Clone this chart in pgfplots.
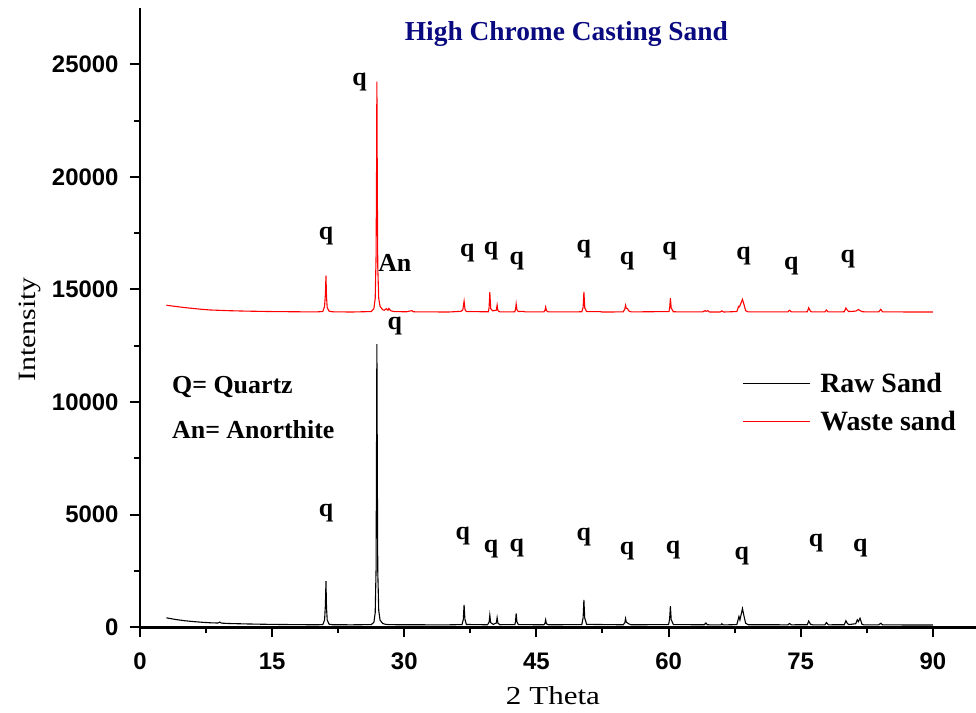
\documentclass[border=0pt]{standalone}
\usepackage{fontspec}
\setmainfont{Liberation Serif}
\setsansfont{Liberation Sans}
\newfontfamily\labelfont[FakeStretch=1.2]{Liberation Serif}
\usepackage{pgfplots}
\pgfplotsset{compat=1.18}
\definecolor{navy}{RGB}{10,10,128}
\newcommand{\anno}{\fontsize{26}{26}\selectfont\bfseries}
\begin{document}
\begin{tikzpicture}
\useasboundingbox (-140bp,-85bp) rectangle (836bp,627.3bp);
\begin{axis}[
  at={(0,0)}, anchor=south west,
  scale only axis, width=836bp, height=619.3bp,
  xmin=0, xmax=94.9, ymin=0, ymax=27500,
  axis lines=left, axis line style={-, line width=2.5bp, black},
  xtick={0,15,...,90}, minor xtick={7.5,22.5,...,82.5},
  ytick={0,5000,...,25000}, minor ytick={2500,7500,...,22500},
  tick align=outside, major tick length=10bp, minor tick length=6bp,
  major tick style={line width=2bp, black},
  minor tick style={line width=2bp, black},
  tick label style={font=\fontsize{24}{24}\selectfont\sffamily\bfseries},
  /pgf/number format/assume math mode=true,
  scaled y ticks=false,
  yticklabel style={/pgf/number format/1000 sep={}, xshift=-8bp},
  xticklabel style={yshift=-12bp},
  xlabel={2 Theta}, ylabel={Intensity},
  xlabel style={font=\labelfont\fontsize{26}{26}\selectfont, at={(axis description cs:0.494,-0.11)}, anchor=center},
  ylabel style={font=\labelfont\fontsize{25}{25}\selectfont, at={(axis description cs:-0.132,0.481)}, anchor=center, rotate=0},
  legend style={draw=none, fill=none, at={(axis cs:68,11485)}, anchor=north west,
    font=\fontsize{28}{28}\selectfont\bfseries, row sep=13bp,
    /tikz/every odd column/.append style={column sep=8bp}},
  legend cell align=left,
  legend image code/.code={\draw[#1] (0bp,0bp) -- (67bp,0bp);},
  clip=false,
]
\addplot[black, line width=1.1bp] coordinates {
(3,420) (3.5,385) (4,350) (5,295) (6,255) (7,225) (8,200) (8.85,190) (9.05,230) (9.25,185)
(10,170) (12,150) (14,135) (16,125) (18,118) (20,112) (20.75,120) (20.95,320) (21.05,1000)
(21.11,2050) (21.17,900) (21.25,330) (21.45,140) (21.85,115) (24,110) (26.25,120) (26.55,220)
(26.7,650) (26.8,2600) (26.85,8000) (26.89,12570) (26.94,7000) (26.99,2500) (27.1,750)
(27.25,320) (27.55,170) (27.85,135) (28.25,118) (30,112) (35,110) (36.55,120) (36.7,350)
(36.79,1000) (36.88,360) (37.05,125) (39.45,112) (39.63,230) (39.71,540) (39.8,210)
(40.1,130) (40.45,190) (40.54,430) (40.63,180) (40.85,115) (42.55,120) (42.63,260)
(42.7,620) (42.78,250) (42.95,120) (45.85,112) (45.97,170) (46.05,330) (46.13,160)
(46.35,112) (50.15,120) (50.3,420) (50.39,1220) (50.48,420) (50.7,130) (54.85,112)
(55.03,200) (55.12,390) (55.2,230) (55.35,190) (55.5,150) (55.75,112) (60,120)
(60.12,360) (60.21,940) (60.3,340) (60.55,120) (64.05,112) (64.24,190) (64.4,112)
(65.95,105) (66.05,160) (66.2,105) (67.75,120) (67.99,480) (68.1,330) (68.39,830)
(68.55,520) (68.75,180) (69.05,115) (73.55,110) (73.72,170) (73.95,110) (75.75,115)
(75.91,280) (76.1,140) (76.35,110) (77.75,110) (77.92,210) (78.15,110) (79.95,115)
(80.13,290) (80.3,170) (80.45,120) (81.25,160) (81.42,330) (81.55,250) (81.74,400)
(81.95,140) (82.15,110) (83.85,110) (84.09,180) (84.3,108) (86,105) (90,100)
};
\addlegendentry{Raw Sand}
\addplot[red, line width=1.1bp] coordinates {
(3,14300) (4,14250) (5,14200) (6,14160) (7,14120) (8,14090) (10,14060) (12,14040)
(15,14020) (18,14010) (20,14005) (20.75,14020) (20.95,14250) (21.05,14800) (21.11,15620)
(21.17,14700) (21.25,14200) (21.45,14040) (21.85,14010) (24,14000) (26.25,14020) (26.55,14150)
(26.7,14600) (26.8,16500) (26.85,20000) (26.89,24230) (26.94,19500) (26.99,16000)
(27.1,14600) (27.25,14250) (27.55,14100) (27.75,14080) (27.95,14150) (28.15,14080)
(28.25,14160) (28.45,14060) (28.85,14020) (30.25,14010) (30.85,14060) (31.05,14010) (35,14000)
(36.45,14030) (36.65,14100) (36.79,14480) (36.9,14100) (37.05,14020) (39.55,14010)
(39.63,14200) (39.71,14880) (39.81,14150) (40.05,14050) (40.45,14080) (40.54,14310)
(40.63,14060) (40.85,14005) (42.55,14010) (42.63,14120) (42.7,14360) (42.79,14100)
(42.95,14020) (43.45,14030) (43.75,14005) (45.85,14005) (45.97,14070) (46.05,14220)
(46.14,14060) (46.35,14005) (50.15,14010) (50.3,14200) (50.39,14890) (50.49,14180)
(50.7,14020) (52.25,14020) (52.45,14000) (54.85,14005) (55.03,14130) (55.12,14300)
(55.2,14170) (55.35,14150) (55.45,14060) (55.75,14005) (60.05,14020) (60.13,14200)
(60.21,14610) (60.3,14180) (60.55,14010) (63.85,14005) (64.15,14060) (64.25,14030)
(64.45,14060) (64.65,14000) (65.85,14000) (66.05,14050) (66.25,14000) (67.75,14020)
(67.95,14250) (68.05,14230) (68.39,14560) (68.55,14350) (68.75,14060) (69.05,14005)
(73.55,14005) (73.72,14080) (73.95,14005) (75.75,14010) (75.91,14190) (76.1,14040)
(76.25,14005) (77.75,14005) (77.92,14090) (78.1,14005) (79.95,14010) (80.13,14180)
(80.3,14080) (80.45,14020) (81.25,14040) (81.55,14110) (81.75,14060) (82.05,14010)
(83.85,14005) (84.09,14120) (84.3,14005) (90,14000)
};
\addlegendentry{Waste sand}
% title
\node[font=\fontsize{27.5}{27.5}\selectfont\bfseries, text=navy] at (axis cs:48.4,26330) {High Chrome Casting Sand};
% key
\node[anchor=west, inner sep=0pt, font=\anno] at (axis cs:3.63,10660) {Q= Quartz};
\node[anchor=west, inner sep=0pt, font=\anno] at (axis cs:3.63,8790) {An= Anorthite};
% waste sand labels
\node[font=\anno] at (axis cs:24.93,24200) {q};
\node[font=\anno] at (axis cs:21.12,17360) {q};
\node[font=\anno] at (axis cs:28.93,16200) {An};
\node[font=\anno] at (axis cs:28.93,13360) {q};
\node[font=\anno] at (axis cs:37.16,16640) {q};
\node[font=\anno] at (axis cs:39.86,16710) {q};
\node[font=\anno] at (axis cs:42.77,16260) {q};
\node[font=\anno] at (axis cs:50.39,16780) {q};
\node[font=\anno] at (axis cs:55.30,16260) {q};
\node[font=\anno] at (axis cs:60.11,16710) {q};
\node[font=\anno] at (axis cs:68.52,16490) {q};
\node[font=\anno] at (axis cs:73.94,16040) {q};
\node[font=\anno] at (axis cs:80.35,16340) {q};
% raw sand labels
\node[font=\anno] at (axis cs:21.12,5060) {q};
\node[font=\anno] at (axis cs:36.65,4055) {q};
\node[font=\anno] at (axis cs:39.86,3495) {q};
\node[font=\anno] at (axis cs:42.77,3540) {q};
\node[font=\anno] at (axis cs:50.39,4030) {q};
\node[font=\anno] at (axis cs:55.30,3390) {q};
\node[font=\anno] at (axis cs:60.51,3430) {q};
\node[font=\anno] at (axis cs:68.33,3170) {q};
\node[font=\anno] at (axis cs:76.74,3760) {q};
\node[font=\anno] at (axis cs:81.76,3540) {q};
\end{axis}
\end{tikzpicture}
\end{document}
